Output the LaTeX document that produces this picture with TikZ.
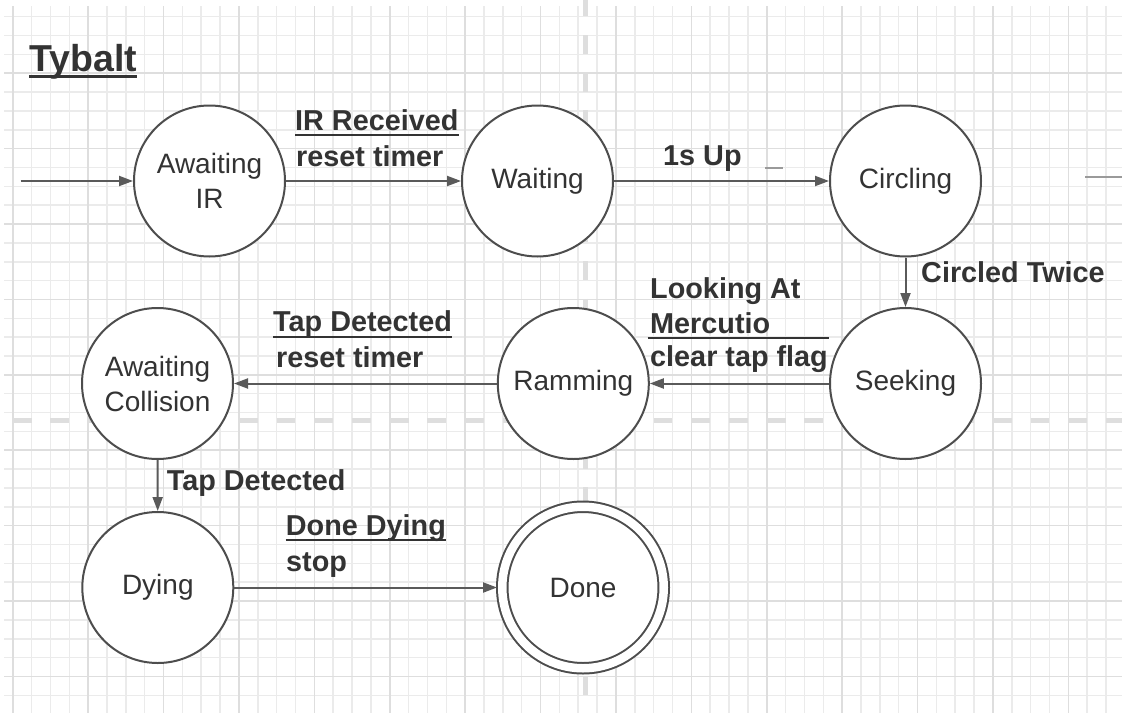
\documentclass[tikz,border=0pt]{standalone}
\usepackage{fontspec}
\setmainfont{Liberation Sans}
\usetikzlibrary{arrows.meta}
\definecolor{txt}{HTML}{333333}
\definecolor{strokec}{HTML}{4D4D4D}
\definecolor{arrowc}{HTML}{5A5A5A}
\definecolor{minorc}{HTML}{EBEBEB}
\definecolor{majorc}{HTML}{DEDEDE}
\definecolor{guidec}{HTML}{DEDEDE}
\definecolor{strayc}{HTML}{9A9A9A}
\begin{document}
\begin{tikzpicture}[x=1pt,y=-1pt,
  state/.style={circle, draw=strokec, line width=2pt, fill=white, minimum size=151pt,
    inner sep=0pt, text=txt, font=\fontsize{28}{35}\selectfont, align=center},
  lbl/.style={anchor=base west, inner sep=0pt, text=txt, font=\fontsize{28.8}{35}\selectfont\bfseries},
  edge/.style={draw=arrowc, line width=2pt, -{Triangle[length=14pt,width=10pt]}},
  ul/.style={draw=txt, line width=2pt},
  minorline/.style={draw=minorc, line width=1.5pt},
  majorline/.style={draw=majorc, line width=1.6pt},
  guide/.style={draw=guidec, line width=5pt, dash pattern=on 18.85pt off 18.85pt},
  stray/.style={draw=strayc, line width=2pt}]
\useasboundingbox (0,0) rectangle (1122,715);
\fill[white] (0,0) rectangle (1122,715);
% grid
\foreach \i in {0,...,58} \draw[minorline] ({12.7+18.85*\i},6) -- ({12.7+18.85*\i},713);
\foreach \j in {0,...,36} \draw[minorline] (4,{16.7+18.85*\j}) -- (1122,{16.7+18.85*\j});
\foreach \i in {0,...,14} \draw[majorline] ({12.7+75.4*\i},6) -- ({12.7+75.4*\i},713);
\foreach \j in {0,...,8} \draw[majorline] (4,{73.25+75.4*\j}) -- (1122,{73.25+75.4*\j});
% guides
\draw[guide] (585,-2.7) -- (585,713);
\draw[guide] (12.7,420.7) -- (1122,420.7);
% title
\node[anchor=base west, inner sep=0pt, text=txt, font=\fontsize{37.5}{40}\selectfont\bfseries] (title) at (29.3,71.7) {Tybalt};
\draw[draw=txt, line width=3pt] ([yshift=-5pt]title.base west) -- ([yshift=-5pt]title.base east);
% states
\node[state] (air) at (209.5,181) {Awaiting\\IR};
\node[state] (wait) at (537.5,181) {Waiting};
\node[state] (circ) at (905.5,181) {Circling};
\node[state] (seek) at (905.5,383.5) {Seeking};
\node[state] (ram) at (573.3,383.5) {Ramming};
\node[state] (ac) at (157.5,383.5) {Awaiting\\Collision};
\node[state] (dying) at (157.8,587.5) {Dying};
\node[state, double=white, double distance=8.5pt, minimum size=161.5pt, outer sep=5.25pt] (done) at (583,587.5) {Done};
% edges
\coordinate (start) at (20.7,181);
\draw[edge] (start) -- (air);
\draw[edge] (air) -- (wait);
\draw[edge] (wait) -- (circ);
\draw[edge] (circ) -- (seek);
\draw[edge] (seek) -- (ram);
\draw[edge] (ram) -- (ac);
\draw[edge] (ac) -- (dying);
\draw[edge] (dying) -- (done);
% stray marks
\draw[stray] (765,168) -- (783,168);
\draw[stray] (1085,177) -- (1122,177);
% labels
\node[lbl] (l1a) at (295,130) {IR Received};
\draw[ul] ([yshift=-5pt]l1a.base west) -- ([yshift=-5pt]l1a.base east);
\node[lbl] (l1b) at (296,166) {reset timer};
\node[lbl] (l2) at (663,165) {1s Up};
\node[lbl] (l3) at (921,282.5) {Circled Twice};
\node[lbl] (l4a) at (650,298) {Looking At};
\node[lbl] (l4b) at (650,333) {Mercutio};
\draw[ul] ([xshift=-2.3pt,yshift=-4.7pt]l4b.base west) -- ++(181,0);
\node[lbl] (l4c) at (650,366.7) {clear tap flag};
\node[lbl] (l5a) at (273,331.7) {Tap Detected};
\draw[ul] ([yshift=-5pt]l5a.base west) -- ([yshift=-5pt]l5a.base east);
\node[lbl] (l5b) at (276,367) {reset timer};
\node[lbl] (l6) at (166.7,490) {Tap Detected};
\node[lbl] (l7a) at (285.7,535) {Done Dying};
\draw[ul] ([yshift=-5pt]l7a.base west) -- ([yshift=-5pt]l7a.base east);
\node[lbl] (l7b) at (286,571.7) {stop};
\end{tikzpicture}
\end{document}
